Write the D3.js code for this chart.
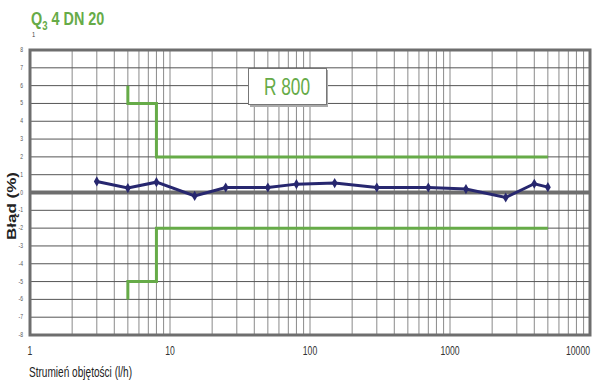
<!DOCTYPE html>
<html>
<head>
<meta charset="utf-8">
<script src="https://cdn.jsdelivr.net/npm/d3@7"></script>
<style>
  body { margin: 0; background: #fff; }
  svg { display: block; }
</style>
</head>
<body>
<svg id="chart" width="600" height="390"></svg>
<script>
const flows = [3, 5, 8, 15, 25, 50, 80, 150, 300, 700, 1300, 2500, 4000, 5000];
const errors = [0.62, 0.25, 0.58, -0.19, 0.28, 0.28, 0.47, 0.53, 0.28, 0.28, 0.19, -0.28, 0.49, 0.30];
const upperX = [5, 5, 8, 8, 5000];
const upperY = [6, 5, 5, 2, 2];
const lowerX = [5, 5, 8, 8, 5000];
const lowerY = [-6, -5, -5, -2, -2];
const xTickLabels = [1, 10, 100, 1000, 10000];
const yTicks = d3.range(-8, 9);

const colors = {
  grid: '#8a8a8a',
  frame: '#6e6e6e',
  green: '#66ab48',
  line: '#27276f',
  text: '#333'
};
const font = '"Liberation Sans", Arial, sans-serif';
const squeeze = 0.72; // the reference text is narrow (Arial Narrow look)

const m = { left: 30, right: 10, top: 50, bottom: 55 };
const width = 600, height = 390;

const svg = d3.select('#chart');

const x = d3.scaleLog().domain([1, 10000]).range([m.left, width - m.right]);
const y = d3.scaleLinear().domain([-8, 8]).range([height - m.bottom, m.top]);

// narrow text helper
function narrowText(g, tx, ty, str, size, opts = {}) {
  return g.append('text')
    .attr('transform', `translate(${tx},${ty}) scale(${opts.sx || squeeze},1)`)
    .attr('text-anchor', opts.anchor || 'start')
    .attr('font-family', font)
    .attr('font-size', size)
    .attr('font-weight', opts.weight || 'normal')
    .attr('fill', opts.fill || colors.text)
    .text(str);
}

// grid
svg.append('g')
  .selectAll('line')
  .data(x.ticks().filter(d => d > 1 && d < 10000))
  .join('line')
  .attr('x1', d => x(d)).attr('x2', d => x(d))
  .attr('y1', y(8)).attr('y2', y(-8))
  .attr('stroke', colors.grid)
  .attr('stroke-width', 1);

svg.append('g')
  .selectAll('line')
  .data(yTicks.filter(d => d > -8 && d < 8 && d !== 0))
  .join('line')
  .attr('x1', x(1)).attr('x2', x(10000))
  .attr('y1', d => y(d)).attr('y2', d => y(d))
  .attr('stroke', '#555')
  .attr('stroke-width', 1);

// zero line
svg.append('line')
  .attr('x1', x(1)).attr('x2', x(10000))
  .attr('y1', y(0)).attr('y2', y(0))
  .attr('stroke', colors.frame)
  .attr('stroke-width', 4);

// frame
svg.append('rect')
  .attr('x', x(1)).attr('y', y(8))
  .attr('width', x(10000) - x(1))
  .attr('height', y(-8) - y(8))
  .attr('fill', 'none')
  .attr('stroke', colors.frame)
  .attr('stroke-width', 3);

// y tick labels
const yLab = svg.append('g');
yTicks.forEach(d => narrowText(yLab, x(1) - 7, y(d) + 2, d, 7, { anchor: 'end', fill: '#555' }));

// x tick labels
const xLab = svg.append('g');
xTickLabels.forEach(d => narrowText(xLab, x(d), 355, d, 12,
  { anchor: d === 10000 ? 'end' : 'middle' }));

// axis titles
narrowText(svg, 29, 377, 'Strumień objętości (l/h)', 14, { fill: '#222' });

svg.append('text')
  .attr('transform', `translate(16,206) rotate(-90) scale(1,0.72)`)
  .attr('text-anchor', 'middle')
  .attr('font-family', font)
  .attr('font-size', 17)
  .attr('font-weight', 'bold')
  .attr('fill', '#222')
  .text('Błąd (%)');

// limit lines
const limitLine = d3.line().x(d => x(d[0])).y(d => y(d[1]));
[[upperX, upperY], [lowerX, lowerY]].forEach(([xs, ys]) => {
  svg.append('path')
    .datum(xs.map((v, i) => [v, ys[i]]))
    .attr('d', limitLine)
    .attr('fill', 'none')
    .attr('stroke', colors.green)
    .attr('stroke-width', 3);
});

// R 800 box
svg.append('rect')
  .attr('x', 250).attr('y', 70)
  .attr('width', 78).attr('height', 37)
  .attr('fill', '#aaa');
svg.append('rect')
  .attr('x', 248.5).attr('y', 68.5)
  .attr('width', 78).attr('height', 36)
  .attr('fill', '#fff')
  .attr('stroke', '#777')
  .attr('stroke-width', 1);
narrowText(svg, 287, 95, 'R 800', 24, { anchor: 'middle', fill: colors.green });

// data line
const pts = flows.map((f, i) => [f, errors[i]]);
svg.append('path')
  .datum(pts)
  .attr('d', d3.line().x(d => x(d[0])).y(d => y(d[1])))
  .attr('fill', 'none')
  .attr('stroke', colors.line)
  .attr('stroke-width', 3);

svg.append('g')
  .selectAll('path')
  .data(pts)
  .join('path')
  .attr('transform', d => `translate(${x(d[0])},${y(d[1])})`)
  .attr('d', d3.symbol(d3.symbolDiamond, 30))
  .attr('fill', colors.line);

// title
const title = svg.append('text')
  .attr('transform', `translate(31,25) scale(0.8,1)`)
  .attr('font-family', font)
  .attr('font-size', 18)
  .attr('font-weight', 'bold')
  .attr('fill', colors.green);
title.append('tspan').text('Q');
title.append('tspan').attr('dy', 5).attr('font-size', 12).text('3');
title.append('tspan').attr('dy', -5).text(' 4 DN 20');

narrowText(svg, 32, 37, '1', 8, { fill: '#444' });
</script>
</body>
</html>
